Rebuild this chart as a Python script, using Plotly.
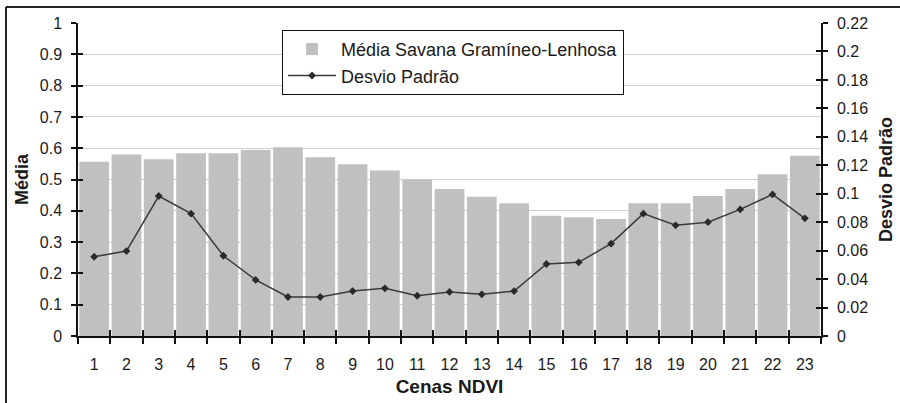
import plotly.graph_objects as go

cenas = [str(i) for i in range(1, 24)]
media = [0.557, 0.580, 0.565, 0.584, 0.584, 0.594, 0.603, 0.571, 0.549, 0.529, 0.500, 0.470,
         0.445, 0.424, 0.384, 0.379, 0.374, 0.424, 0.424, 0.447, 0.470, 0.517, 0.576]
desvio = [0.0557, 0.0597, 0.0984, 0.086, 0.0564, 0.0394, 0.0274, 0.0274, 0.0316, 0.0335, 0.0283, 0.031,
          0.0293, 0.0316, 0.0506, 0.0518, 0.0649, 0.086, 0.0778, 0.080, 0.089, 0.0995, 0.0827]
left_ticks = [0, 0.1, 0.2, 0.3, 0.4, 0.5, 0.6, 0.7, 0.8, 0.9, 1]
left_labels = ["0", "0.1", "0.2", "0.3", "0.4", "0.5", "0.6", "0.7", "0.8", "0.9", "1"]
right_ticks = [0, 0.02, 0.04, 0.06, 0.08, 0.1, 0.12, 0.14, 0.16, 0.18, 0.2, 0.22]
right_labels = ["0", "0.02", "0.04", "0.06", "0.08", "0.1", "0.12", "0.14", "0.16", "0.18", "0.2", "0.22"]

FONT = "Liberation Sans, Arial, sans-serif"
TXT = "#1a1a1a"
AX = "#111"

fig = go.Figure()
fig.add_trace(go.Bar(x=cenas, y=media, name="Média Savana Gramíneo-Lenhosa",
                     marker=dict(color="#c0c0c0", line=dict(width=0)), yaxis="y"))
fig.add_trace(go.Scatter(x=cenas, y=desvio, name="Desvio Padrão", mode="lines+markers",
                         line=dict(color="#3a3a3a", width=1.5),
                         marker=dict(symbol="diamond", size=6, color="#2a2a2a"), yaxis="y2"))
# invisible helper traces so the inner-tick overlay axes are drawn
fig.add_trace(go.Scatter(x=cenas, y=media, mode="none", showlegend=False, hoverinfo="skip",
                         xaxis="x2", yaxis="y3"))
fig.add_trace(go.Scatter(x=cenas, y=desvio, mode="none", showlegend=False, hoverinfo="skip",
                         xaxis="x", yaxis="y4"))

fig.update_layout(
    width=900, height=403,
    margin=dict(l=78, r=79, t=23, b=67, autoexpand=False),
    paper_bgcolor="white", plot_bgcolor="white",
    font=dict(family=FONT, size=16, color=TXT),
    bargap=0.08,
    showlegend=True,
    legend=dict(x=0.2746, y=0.978, xanchor="left", yanchor="top",
                bgcolor="white", bordercolor=AX, borderwidth=1,
                font=dict(size=18, color=TXT), tracegroupgap=0,
                itemwidth=48),
    xaxis=dict(type="category", range=[-0.5, 22.5], autorange=False,
               tickson="boundaries", ticks="outside", ticklen=6,
               tickcolor=AX, tickwidth=1.5, ticklabelstandoff=13,
               showline=True, linecolor=AX, linewidth=1.5, showgrid=False,
               tickfont=dict(size=16, color=TXT),
               title=dict(text="<b>Cenas NDVI</b>", font=dict(size=19, color=TXT), standoff=8)),
    xaxis2=dict(type="category", range=[-0.5, 22.5], autorange=False, overlaying="x",
                side="bottom", anchor="y3",
                tickson="boundaries", ticks="inside", ticklen=6, tickcolor=AX, tickwidth=1.5,
                showticklabels=False, showline=False, showgrid=False),
    yaxis=dict(range=[0, 1], autorange=False, tickvals=left_ticks, ticktext=left_labels,
               ticks="outside", ticklen=5, tickcolor=AX, tickwidth=1.5, ticklabelstandoff=6,
               showline=True, linecolor=AX, linewidth=1.5,
               showgrid=True, gridcolor="#cfcfcf", gridwidth=1, zeroline=False,
               tickfont=dict(size=16, color=TXT),
               title=dict(text="<b>Média</b>", font=dict(size=18, color=TXT), standoff=6)),
    yaxis2=dict(range=[0, 0.22], autorange=False, overlaying="y", side="right",
                tickvals=right_ticks, ticktext=right_labels,
                ticks="outside", ticklen=5, tickcolor=AX, tickwidth=1.5, ticklabelstandoff=6,
                showline=True, linecolor=AX, linewidth=1.5, showgrid=False, zeroline=False,
                tickfont=dict(size=16, color=TXT),
                title=dict(text="<b>Desvio Padrão</b>", font=dict(size=18, color=TXT), standoff=12)),
    yaxis3=dict(range=[0, 1], autorange=False, overlaying="y", side="left", anchor="x2",
                tickvals=left_ticks, ticks="inside", ticklen=5, tickcolor=AX, tickwidth=1.5,
                showticklabels=False, showline=False, showgrid=False, zeroline=False),
    yaxis4=dict(range=[0, 0.22], autorange=False, overlaying="y", side="right", anchor="x",
                tickvals=right_ticks, ticks="inside", ticklen=5, tickcolor=AX, tickwidth=1.5,
                showticklabels=False, showline=False, showgrid=False, zeroline=False),
)

# outer frame (partially cropped in original)
fig.add_shape(type="line", xref="paper", yref="paper", x0=-0.0969, x1=1.2, y0=1.0511, y1=1.0511,
              line=dict(color="#222", width=2))
fig.add_shape(type="line", xref="paper", yref="paper", x0=-0.0969, x1=-0.0969, y0=-0.3, y1=1.0511,
              line=dict(color="#222", width=2))

fig.write_html("out.html", config={"displayModeBar": False},
               post_script="document.body.style.margin='0';document.body.style.padding='0';")
